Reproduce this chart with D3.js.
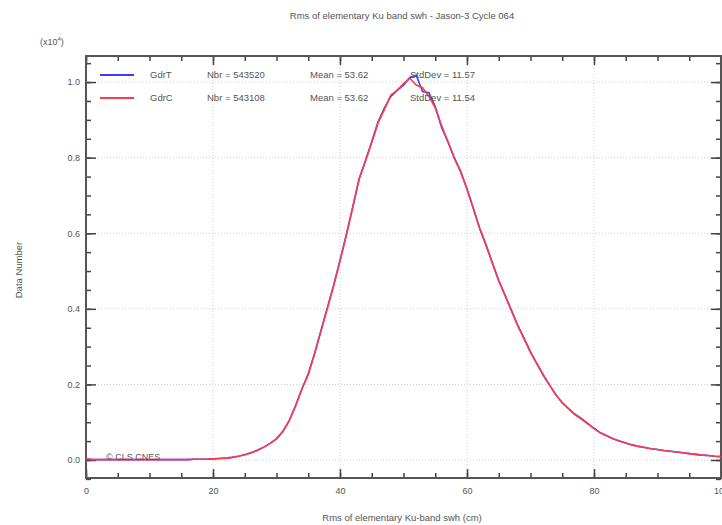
<!DOCTYPE html>
<html>
<head>
<meta charset="utf-8">
<script src="https://cdn.jsdelivr.net/npm/d3@7"></script>
<style>
  body { margin: 0; background: #fff; }
  svg text { font-family: "Liberation Sans", Arial, sans-serif; fill: #555; }
</style>
</head>
<body>
<div id="chart"></div>
<script>
// histogram values (x10^4), 1 cm bins from 0 to 100
const xBins = d3.range(0, 101);
const gdrT = [
  0.003, 0.001, 0.001, 0.001, 0.001, 0.001, 0.001, 0.001, 0.001, 0.001,
  0.001, 0.001, 0.001, 0.001, 0.001, 0.001, 0.001, 0.002, 0.002, 0.002,
  0.003, 0.004, 0.005, 0.007, 0.010, 0.014, 0.019, 0.026, 0.034, 0.044,
  0.056, 0.076, 0.104, 0.143, 0.188, 0.228, 0.282, 0.342, 0.402, 0.462,
  0.528, 0.596, 0.668, 0.742, 0.792, 0.842, 0.895, 0.932, 0.962, 0.978,
  0.992, 1.012, 1.018, 0.975, 0.972, 0.935, 0.880, 0.842, 0.800, 0.762,
  0.718, 0.666, 0.612, 0.568, 0.522, 0.475, 0.436, 0.396, 0.356, 0.322,
  0.286, 0.255, 0.225, 0.198, 0.173, 0.151, 0.136, 0.121, 0.110, 0.097,
  0.084, 0.072, 0.064, 0.056, 0.050, 0.045, 0.040, 0.036, 0.033, 0.030,
  0.028, 0.025, 0.023, 0.021, 0.019, 0.017, 0.015, 0.013, 0.012, 0.010, 0.009
];
const gdrC = [
  0.003, 0.001, 0.001, 0.001, 0.001, 0.001, 0.001, 0.001, 0.001, 0.001,
  0.001, 0.001, 0.001, 0.001, 0.001, 0.001, 0.001, 0.002, 0.002, 0.002,
  0.003, 0.004, 0.005, 0.007, 0.010, 0.014, 0.019, 0.026, 0.034, 0.044,
  0.056, 0.075, 0.104, 0.144, 0.188, 0.226, 0.281, 0.341, 0.401, 0.461,
  0.527, 0.595, 0.669, 0.744, 0.790, 0.840, 0.892, 0.928, 0.966, 0.978,
  0.996, 1.010, 0.992, 0.985, 0.962, 0.932, 0.885, 0.842, 0.798, 0.765,
  0.716, 0.665, 0.614, 0.570, 0.520, 0.474, 0.435, 0.395, 0.355, 0.320,
  0.285, 0.255, 0.225, 0.198, 0.172, 0.152, 0.135, 0.120, 0.108, 0.096,
  0.083, 0.072, 0.064, 0.056, 0.050, 0.045, 0.040, 0.036, 0.033, 0.030,
  0.028, 0.025, 0.023, 0.021, 0.019, 0.017, 0.015, 0.013, 0.012, 0.010, 0.009
];
const seriesNames = ["GdrT", "GdrC"];
const seriesColors = ["#3b3bff", "#ff3b4b"];
const nbrLabels = ["Nbr = 543520", "Nbr = 543108"];
const meanLabels = ["Mean = 53.62", "Mean = 53.62"];
const stdLabels = ["StdDev = 11.57", "StdDev = 11.54"];
const xTicks = [0, 20, 40, 60, 80, 100];
const yTicks = [0.0, 0.2, 0.4, 0.6, 0.8, 1.0];

const W = 722, H = 525;
const margin = {top: 56, right: 1, bottom: 47, left: 86};
const width = W - margin.left - margin.right;
const height = H - margin.top - margin.bottom;

const svg = d3.select("#chart").append("svg")
  .attr("width", W).attr("height", H);

const g = svg.append("g")
  .attr("transform", `translate(${margin.left},${margin.top})`);

const x = d3.scaleLinear().domain([0, 100]).range([0, width]);
const y = d3.scaleLinear().domain([-0.0476, 1.069]).range([height, 0]);

// grid
g.selectAll(".vgrid").data(xTicks.slice(1, -1)).join("line")
  .attr("x1", d => x(d)).attr("x2", d => x(d))
  .attr("y1", 0).attr("y2", height)
  .attr("stroke", "#cfcfcf").attr("stroke-dasharray", "1,2");
g.selectAll(".hgrid").data(yTicks).join("line")
  .attr("x1", 0).attr("x2", width)
  .attr("y1", d => y(d)).attr("y2", d => y(d))
  .attr("stroke", "#cfcfcf").attr("stroke-dasharray", "1,2");

// axes (ticks pointing inward)
const minorX = d3.range(0, 101, 5);
const minorY = d3.range(-0.05, 1.07, 0.05);
function tickFmt(d) { return d3.format(".1f")(d); }

g.append("g").attr("transform", `translate(0,${height})`)
  .call(d3.axisBottom(x).tickValues(minorX).tickSize(-5).tickFormat(""));
g.append("g").attr("transform", `translate(0,${height})`)
  .call(d3.axisBottom(x).tickValues(xTicks).tickSize(-9).tickPadding(10).tickFormat(d3.format("d")));
g.append("g").call(d3.axisTop(x).tickValues(minorX).tickSize(-5).tickFormat(""));
g.append("g").call(d3.axisTop(x).tickValues(xTicks).tickSize(-9).tickFormat(""));

g.append("g").call(d3.axisLeft(y).tickValues(minorY).tickSize(-5).tickFormat(""));
g.append("g").call(d3.axisLeft(y).tickValues(yTicks).tickSize(-10).tickPadding(6).tickFormat(tickFmt));
g.append("g").attr("transform", `translate(${width},0)`)
  .call(d3.axisRight(y).tickValues(minorY).tickSize(-5).tickFormat(""));
g.append("g").attr("transform", `translate(${width},0)`)
  .call(d3.axisRight(y).tickValues(yTicks).tickSize(-10).tickFormat(""));

g.selectAll(".domain").remove();
g.selectAll(".tick line").attr("stroke", "#444").attr("stroke-width", 1.5);
g.selectAll(".tick text").attr("font-size", 9).attr("fill", "#555")
  .attr("font-family", "Liberation Sans, Arial, sans-serif");

// frame
g.append("rect").attr("x", 0).attr("y", 0).attr("width", width).attr("height", height)
  .attr("fill", "none").attr("stroke", "#555").attr("stroke-width", 2);

// curves
const line = d3.line().x((d, i) => x(xBins[i])).y(d => y(d));
[gdrT, gdrC].forEach((vals, k) => {
  g.append("path").datum(vals)
    .attr("d", line)
    .attr("fill", "none")
    .attr("stroke", seriesColors[k])
    .attr("stroke-width", 1.6);
});

// legend
seriesNames.forEach((name, k) => {
  const ly = 19 + k * 23;
  g.append("line").attr("x1", 14).attr("x2", 48).attr("y1", ly).attr("y2", ly)
    .attr("stroke", seriesColors[k]).attr("stroke-width", 2);
  const t = [name, nbrLabels[k], meanLabels[k], stdLabels[k]];
  const tx = [64, 121, 224, 324];
  t.forEach((s, j) => {
    g.append("text").attr("x", tx[j]).attr("y", ly + 3)
      .attr("font-size", 9.5).text(s);
  });
});

// copyright
g.append("text").attr("x", 20).attr("y", height - 18).attr("font-size", 9).text("© CLS CNES");

// titles
svg.append("text").attr("x", 402).attr("y", 19).attr("text-anchor", "middle")
  .attr("font-size", 9.5).text("Rms of elementary Ku band swh - Jason-3 Cycle 064");
svg.append("text").attr("x", 402).attr("y", 521).attr("text-anchor", "middle")
  .attr("font-size", 9.5).text("Rms of elementary Ku-band swh (cm)");
svg.append("text").attr("transform", "translate(22,270) rotate(-90)")
  .attr("text-anchor", "middle").attr("font-size", 9.5).text("Data Number");
const ex = svg.append("text").attr("x", 40).attr("y", 45).attr("font-size", 9);
ex.append("tspan").text("(x10");
ex.append("tspan").attr("dy", -4).attr("font-size", 6).text("4");
ex.append("tspan").attr("dy", 4).text(")");
</script>
</body>
</html>
